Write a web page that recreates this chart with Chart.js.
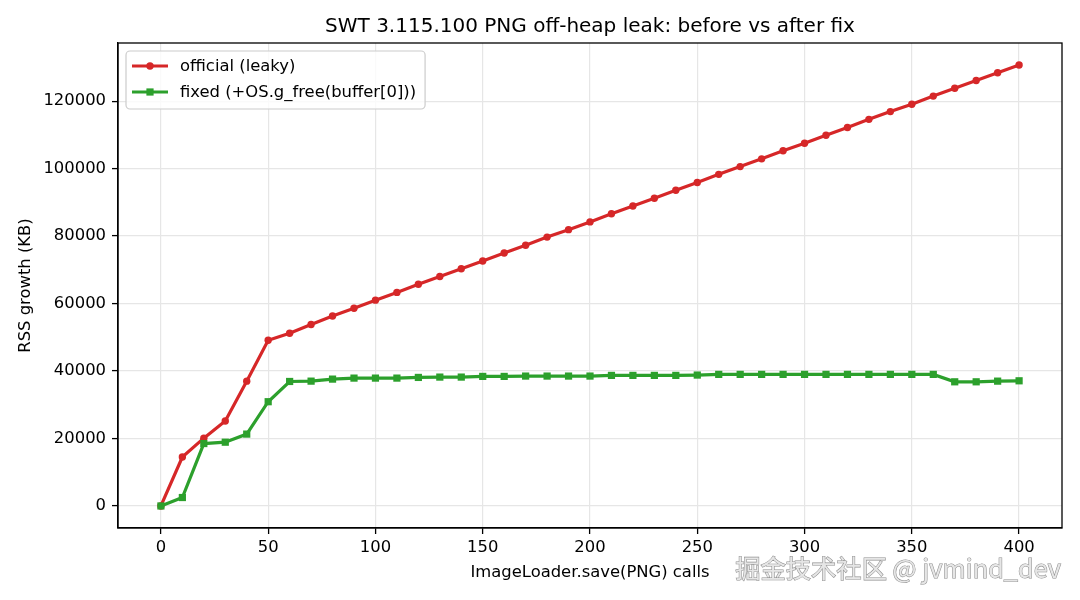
<!DOCTYPE html>
<html>
<head>
<meta charset="utf-8">
<script src="https://cdn.jsdelivr.net/npm/chart.js@4.4.0/dist/chart.umd.min.js"></script>
<style>
    body { margin: 0; background: #fff; }
    #wrap { width: 1080px; height: 600px; }
</style>
</head>
<body>
<div id="wrap"><canvas id="leakChart" width="1080" height="600"></canvas></div>
<script>
// calls to ImageLoader.save(PNG)
const calls = [0, 10, 20, 30, 40, 50, 60, 70, 80, 90, 100, 110, 120, 130, 140, 150, 160, 170, 180, 190, 200,
    210, 220, 230, 240, 250, 260, 270, 280, 290, 300, 310, 320, 330, 340, 350, 360, 370, 380, 390, 400];

// RSS growth in KB
const leaky = [0, 14500, 20100, 25200, 37000, 49100, 51200, 53800, 56300, 58600, 61000,
    63300, 65700, 68000, 70300, 72600, 75000, 77300, 79700, 81900, 84200,
    86600, 88900, 91200, 93600, 95900, 98300, 100600, 102900, 105300, 107500,
    109900, 112200, 114600, 116900, 119100, 121500, 123800, 126100, 128400, 130700];

const fixed = [0, 2500, 18500, 18900, 21300, 30900, 36900, 37000, 37600, 37900, 37900,
    37900, 38100, 38200, 38200, 38400, 38400, 38500, 38500, 38500, 38500,
    38700, 38700, 38700, 38700, 38800, 39000, 39000, 39000, 39000, 39000,
    39000, 39000, 39000, 39000, 39000, 39000, 36800, 36800, 37000, 37100];

const xTicks = [0, 50, 100, 150, 200, 250, 300, 350, 400];
const yTicks = [0, 20000, 40000, 60000, 80000, 100000, 120000];

const FONT = 'DejaVu Sans';
const RED = '#d62728';
const GREEN = '#2ca02c';

// box around the plot + legend box like matplotlib
const framePlugin = {
    id: 'frame',
    afterDatasetsDraw(chart) {
        const ctx = chart.ctx;
        const a = chart.chartArea;
        ctx.save();
        ctx.strokeStyle = '#000';
        ctx.lineWidth = 1.3;
        ctx.strokeRect(a.left, a.top, a.right - a.left, a.bottom - a.top);
        ctx.restore();
    },
    afterDraw(chart) {
        const ctx = chart.ctx;
        ctx.save();
        ctx.font = '16.4px "' + FONT + '"';
        const sets = chart.data.datasets;
        let maxW = 0;
        sets.forEach(ds => { maxW = Math.max(maxW, ctx.measureText(ds.label).width); });

        const bx = 126, by = 51, bh = 58;
        const bw = 180 - bx + maxW + 9;
        ctx.beginPath();
        ctx.roundRect(bx, by, bw, bh, 4);
        ctx.fillStyle = 'rgba(255,255,255,0.8)';
        ctx.fill();
        ctx.strokeStyle = '#cccccc';
        ctx.lineWidth = 1.2;
        ctx.stroke();

        sets.forEach((ds, i) => {
            const cy = 66 + i * 26;
            ctx.strokeStyle = ds.borderColor;
            ctx.lineWidth = 3.2;
            ctx.beginPath();
            ctx.moveTo(132, cy);
            ctx.lineTo(168, cy);
            ctx.stroke();
            ctx.fillStyle = ds.borderColor;
            if (ds.pointStyle === 'rect') {
                ctx.fillRect(150 - 3.6, cy - 3.6, 7.2, 7.2);
            } else {
                ctx.beginPath();
                ctx.arc(150, cy, 3.7, 0, Math.PI * 2);
                ctx.fill();
            }
            ctx.fillStyle = '#000';
            ctx.textBaseline = 'middle';
            ctx.textAlign = 'left';
            ctx.fillText(ds.label, 180, cy + 1);
        });

        // watermark
        ctx.font = '25.3px "Noto Sans CJK SC"';
        ctx.textAlign = 'right';
        ctx.textBaseline = 'middle';
        ctx.lineWidth = 1.1;
        ctx.strokeStyle = 'rgba(120,120,120,0.85)';
        ctx.strokeText('掘金技术社区 @ jvmind_dev', 1061, 568);
        ctx.fillStyle = '#e6e6e6';
        ctx.fillText('掘金技术社区 @ jvmind_dev', 1061, 568);
        ctx.restore();
    }
};

function setupChart() {
    const ctx = document.getElementById('leakChart').getContext('2d');
    const tickFont = { family: FONT, size: 16.4 };

    new Chart(ctx, {
        type: 'line',
        data: {
            datasets: [{
                label: 'official (leaky)',
                data: calls.map((c, i) => ({ x: c, y: leaky[i] })),
                borderColor: RED,
                backgroundColor: RED,
                borderWidth: 3.2,
                pointStyle: 'circle',
                pointRadius: 3.7,
                pointBorderWidth: 0,
                tension: 0,
                order: 1
            }, {
                label: 'fixed (+OS.g_free(buffer[0]))',
                data: calls.map((c, i) => ({ x: c, y: fixed[i] })),
                borderColor: GREEN,
                backgroundColor: GREEN,
                borderWidth: 3.2,
                pointStyle: 'rect',
                pointRadius: 5.1,
                pointBorderWidth: 0,
                tension: 0,
                order: 0
            }]
        },
        options: {
            responsive: false,
            animation: false,
            devicePixelRatio: 1,
            layout: { padding: { left: 0, right: 18, top: 0, bottom: 0 } },
            plugins: {
                legend: { display: false },
                tooltip: { enabled: false },
                title: {
                    display: true,
                    fullSize: false,
                    text: 'SWT 3.115.100 PNG off-heap leak: before vs after fix',
                    color: '#000',
                    font: { family: FONT, size: 20, weight: 'normal' },
                    padding: { top: 15, bottom: 4 }
                }
            },
            scales: {
                x: {
                    type: 'linear',
                    min: -20,
                    max: 420,
                    afterBuildTicks: axis => { axis.ticks = xTicks.map(v => ({ value: v })); },
                    afterFit: axis => { axis.height = 72; },
                    ticks: { color: '#000', font: tickFont, padding: 4, maxRotation: 0 },
                    grid: { color: '#e6e6e6', lineWidth: 1.2, tickColor: '#000', tickLength: 6, tickWidth: 1.3 },
                    border: { color: '#000', width: 1.3 },
                    title: {
                        display: true,
                        text: 'ImageLoader.save(PNG) calls',
                        color: '#000',
                        font: tickFont,
                        padding: { top: 0, bottom: 17 }
                    }
                },
                y: {
                    min: -6535,
                    max: 137235,
                    afterBuildTicks: axis => { axis.ticks = yTicks.map(v => ({ value: v })); },
                    afterFit: axis => { axis.width = 118; },
                    ticks: { color: '#000', font: tickFont, padding: 6, callback: v => String(v) },
                    grid: { color: '#e6e6e6', lineWidth: 1.2, tickColor: '#000', tickLength: 6, tickWidth: 1.3 },
                    border: { color: '#000', width: 1.3 },
                    title: {
                        display: true,
                        text: 'RSS growth (KB)',
                        color: '#000',
                        font: tickFont,
                        padding: { top: 16, bottom: 0 }
                    }
                }
            }
        },
        plugins: [framePlugin]
    });
}

window.onload = setupChart;
</script>
</body>
</html>
